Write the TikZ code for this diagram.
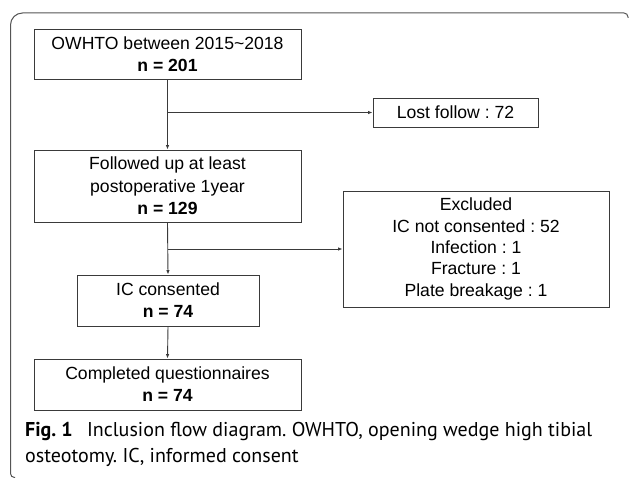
\documentclass[tikz,border=0pt]{standalone}
\usepackage{fontspec}
\setmainfont{Liberation Sans}
\newfontfamily\capfont{PT Sans}
\usetikzlibrary{arrows.meta}
\definecolor{linegray}{HTML}{3A3A3A}
\definecolor{framegray}{HTML}{555555}
\frenchspacing
\tikzset{
  flowbox/.style={draw=linegray, line width=0.9pt, rectangle, align=center, inner sep=0pt, font=\fontsize{17.6}{22}\selectfont},
  flowline/.style={draw=linegray, line width=0.9pt},
  flowarrow/.style={flowline, -{Latex[length=4.5pt,width=3.5pt]}},
  captext/.style={anchor=base west, inner sep=0pt, font=\capfont\fontsize{20}{26}\selectfont}
}
\begin{document}
\begin{tikzpicture}[x=1pt,y=-1pt]
\useasboundingbox (0,0) rectangle (630,478);
% frame
\draw[framegray, line width=1pt] (15,477.5) [rounded corners=4] -- (10.5,477.5) [rounded corners=12] -- (10.5,13) [rounded corners=4] -- (628,13) -- (628,18);
% boxes
\node[flowbox, minimum width=267, minimum height=50] (b1) at (167.5,54) {OWHTO between 2015\textasciitilde2018\\\textbf{n = 201}};
\node[flowbox, minimum width=165, minimum height=29] (lost) at (455.5,112.5) {Lost follow : 72};
\node[flowbox, minimum width=267, minimum height=72, font=\fontsize{17.6}{22.5}\selectfont] (b2) at (167.5,186) {Followed up at least\\postoperative 1year\\\textbf{n = 129}};
\node[flowbox, minimum width=266, minimum height=116, font=\fontsize{17.6}{21.3}\selectfont] (excl) at (476,249) {Excluded\\IC not consented : 52\\Infection : 1\\Fracture : 1\\Plate breakage : 1};
\node[flowbox, minimum width=182, minimum height=51] (b3) at (168,300.5) {IC consented\\\textbf{n = 74}};
\node[flowbox, minimum width=267, minimum height=51] (b4) at (167.5,384.5) {Completed questionnaires\\\textbf{n = 74}};
% connectors
\coordinate (j1) at (b1.south |- lost.west);
\coordinate (j2) at (b2.south |- excl.west);
\draw[flowarrow] (b1.south) -- (b2.north);
\draw[flowarrow] (j1) -- (lost.west);
\draw[flowarrow] (b2.south) -- (b3.north);
\draw[flowarrow] (j2) -- (excl.west);
\draw[flowarrow] (b3.south) -- (b4.north);
% caption
\node[captext] (cap1) at (25,437) {\textbf{Fig. 1}\hspace{0.45em} Inclusion flow diagram. OWHTO, opening wedge high tibial};
\node[captext] (cap2) at (25,463) {osteotomy. IC, informed consent};
\end{tikzpicture}
\end{document}
